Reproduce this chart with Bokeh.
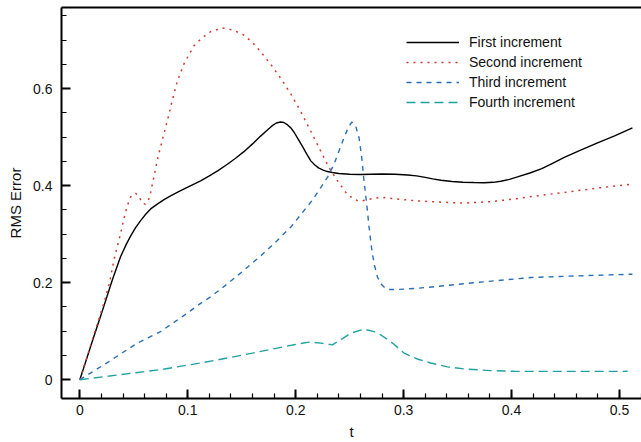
from bokeh.plotting import figure
from bokeh.models import (Range1d, SingleIntervalTicker, LinearAxis, FixedTicker,
                          Legend, LegendItem)
from bokeh.embed import file_html
from bokeh.resources import INLINE

# ---- data ----
t_first = [0, 0.0099, 0.0223, 0.03, 0.0377, 0.043, 0.047, 0.0515, 0.0563, 0.061, 0.0656,
           0.0717, 0.078, 0.0841, 0.092, 0.1, 0.1119, 0.12, 0.128, 0.1367, 0.144, 0.152,
           0.16, 0.1675, 0.173, 0.178, 0.182, 0.186, 0.189, 0.1925, 0.1955, 0.1985, 0.202,
           0.206, 0.21, 0.214, 0.218, 0.2215, 0.2255, 0.2294, 0.234, 0.24, 0.25, 0.26,
           0.27, 0.28, 0.292, 0.3036, 0.312, 0.32, 0.327, 0.3345, 0.345, 0.355, 0.365,
           0.3746, 0.383, 0.39, 0.398, 0.4055, 0.417, 0.428, 0.438, 0.4488, 0.464, 0.4797,
           0.496, 0.512]
y_first = [0, 0.068, 0.152, 0.205, 0.2535, 0.279, 0.296, 0.313, 0.328, 0.341, 0.352,
           0.362, 0.371, 0.379, 0.388, 0.397, 0.41, 0.42, 0.431, 0.444, 0.456, 0.47,
           0.486, 0.502, 0.513, 0.523, 0.529, 0.531, 0.53, 0.525, 0.519, 0.51, 0.497,
           0.482, 0.466, 0.451, 0.442, 0.436, 0.432, 0.429, 0.427, 0.425, 0.4235, 0.423,
           0.4235, 0.424, 0.4235, 0.422, 0.42, 0.417, 0.414, 0.411, 0.4085, 0.407, 0.4063,
           0.406, 0.4068, 0.409, 0.413, 0.418, 0.426, 0.435, 0.446, 0.458, 0.473, 0.488,
           0.503, 0.519]

t_second = [0, 0.0099, 0.0223, 0.0278, 0.0315, 0.0377, 0.0408, 0.044, 0.0476, 0.0516,
            0.0547, 0.0578, 0.0605, 0.063, 0.0656, 0.0686, 0.0723, 0.0764, 0.081, 0.0857,
            0.0903, 0.0965, 0.1057, 0.1135, 0.121, 0.132, 0.1428, 0.152, 0.16, 0.1675,
            0.1768, 0.186, 0.1954, 0.2046, 0.214, 0.2232, 0.2309, 0.2387, 0.248, 0.2572,
            0.2603, 0.2695, 0.2788, 0.2943, 0.3097, 0.3345, 0.356, 0.3808, 0.4024, 0.4272,
            0.4488, 0.4797, 0.512]
y_second = [0, 0.07, 0.158, 0.203, 0.246, 0.301, 0.3315, 0.359, 0.379, 0.384,
            0.379, 0.3636, 0.362, 0.366, 0.386, 0.418, 0.458, 0.4937, 0.533, 0.576,
            0.615, 0.651, 0.688, 0.705, 0.717, 0.725, 0.72, 0.71, 0.695, 0.676,
            0.65, 0.6215, 0.589, 0.553, 0.512, 0.471, 0.437, 0.41, 0.381, 0.369,
            0.368, 0.3725, 0.376, 0.3725, 0.369, 0.366, 0.364, 0.367, 0.3725, 0.38,
            0.386, 0.395, 0.403]

t_third = [0, 0.0266, 0.0532, 0.0748, 0.095, 0.1119, 0.1212, 0.137, 0.152, 0.168, 0.183,
           0.196, 0.2077, 0.2155, 0.2232, 0.2294, 0.2355, 0.2401, 0.2448, 0.2485, 0.2519,
           0.2556, 0.2587, 0.2612, 0.2633, 0.2658, 0.268, 0.2702, 0.2726, 0.2757, 0.2788,
           0.2825, 0.2865, 0.2943, 0.3097, 0.33, 0.356, 0.39, 0.418, 0.46, 0.512]
y_third = [0, 0.037, 0.0755, 0.0993, 0.13, 0.1575, 0.171, 0.198, 0.2257, 0.256, 0.287,
           0.316, 0.3486, 0.37, 0.396, 0.417, 0.444, 0.4714, 0.4987, 0.519, 0.531,
           0.5226, 0.4987, 0.4577, 0.41, 0.362, 0.314, 0.273, 0.2394, 0.212, 0.198,
           0.19, 0.186, 0.186, 0.188, 0.192, 0.198, 0.205, 0.2107, 0.214, 0.2175]

t_fourth = [0, 0.0374, 0.0748, 0.1119, 0.1367, 0.16, 0.183, 0.1984, 0.2123, 0.2232, 0.234,
            0.2417, 0.251, 0.2633, 0.2726, 0.2788, 0.2897, 0.3004, 0.3128, 0.325, 0.3407,
            0.356, 0.3808, 0.4024, 0.45, 0.5076]
y_fourth = [0, 0.0105, 0.0209, 0.0346, 0.0448, 0.055, 0.0653, 0.0721, 0.0776, 0.0756, 0.072,
            0.0823, 0.096, 0.1042, 0.0993, 0.0926, 0.0756, 0.055, 0.0428, 0.0346, 0.0265,
            0.0223, 0.0189, 0.0174, 0.0172, 0.0174]

series_names = ["First increment", "Second increment", "Third increment", "Fourth increment"]

x_ticks = [0, 0.1, 0.2, 0.3, 0.4, 0.5]
x_tick_labels = ["0", "0.1", "0.2", "0.3", "0.4", "0.5"]
y_ticks = [0, 0.2, 0.4, 0.6]
y_tick_labels = ["0", "0.2", "0.4", "0.6"]

FONT = "Liberation Sans"

p = figure(width=641, height=442, output_backend="svg", toolbar_location=None,
           x_range=Range1d(-0.017, 0.5204), y_range=Range1d(-0.0386, 0.767),
           min_border_left=61, min_border_right=0, min_border_top=7, min_border_bottom=43,
           x_axis_label="t", y_axis_label="RMS Error")
p.grid.visible = False
p.outline_line_color = None
p.background_fill_color = "white"
p.border_fill_color = "white"

xb = p.below[0]
yl = p.left[0]

# top frame line (no ticks, no labels)
top_axis = LinearAxis(ticker=FixedTicker(ticks=[]), axis_line_width=2,
                      axis_line_color="black", major_tick_line_color=None,
                      minor_tick_line_color=None, major_label_text_font_size="0px",
                      major_tick_in=0, major_tick_out=0, minor_tick_in=0, minor_tick_out=0,
                      major_label_standoff=0)
p.add_layout(top_axis, "above")

xb.ticker = SingleIntervalTicker(interval=0.1, num_minor_ticks=5)
yl.ticker = SingleIntervalTicker(interval=0.2, num_minor_ticks=4)
xb.major_label_overrides = dict(zip(x_ticks, x_tick_labels))
yl.major_label_overrides = dict(zip(y_ticks, y_tick_labels))

for ax in (xb, yl):
    ax.axis_line_width = 2
    ax.axis_line_color = "black"
    ax.major_tick_in = 9
    ax.major_tick_out = 0
    ax.minor_tick_in = 5
    ax.minor_tick_out = 0
    ax.major_tick_line_width = 2
    ax.minor_tick_line_width = 1.2
    ax.major_tick_line_color = "black"
    ax.minor_tick_line_color = "black"
    ax.major_label_text_font = FONT
    ax.major_label_text_font_size = "14px"
    ax.major_label_text_color = "#111111"
    ax.axis_label_text_font = FONT
    ax.axis_label_text_font_size = "15px"
    ax.axis_label_text_font_style = "normal"
    ax.axis_label_text_color = "#111111"

xb.major_label_standoff = 6
xb.axis_label_standoff = 5
yl.major_label_standoff = 9
yl.axis_label_standoff = 6

r1 = p.line(t_first, y_first, line_color="black", line_width=1.4)
r2 = p.line(t_second, y_second, line_color="#cc3a2c", line_width=1.5, line_dash="2 5")
r3 = p.line(t_third, y_third, line_color="#2a6fb5", line_width=1.4, line_dash="5 5")
r4 = p.line(t_fourth, y_fourth, line_color="#20a2a2", line_width=1.4, line_dash="9 5")

legend = Legend(items=[LegendItem(label=n, renderers=[r]) for n, r in
                       zip(series_names, [r1, r2, r3, r4])],
                location=(345, 286), padding=0, margin=0, spacing=0,
                glyph_width=53, glyph_height=20, label_height=20, label_standoff=10,
                border_line_color=None, background_fill_alpha=0,
                label_text_font=FONT, label_text_font_size="14px",
                label_text_color="#111111")
p.add_layout(legend, "center")

open("out.html", "w").write(file_html(p, INLINE))
